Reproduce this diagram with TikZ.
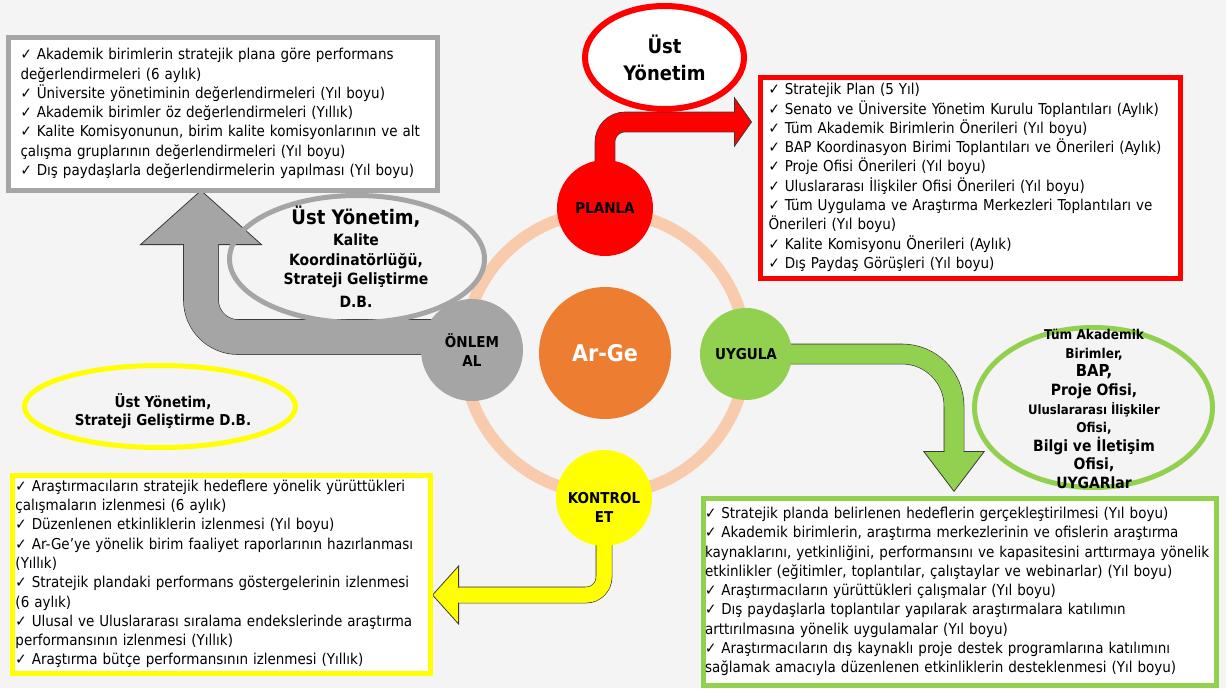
\documentclass[tikz,border=0pt]{standalone}
\usepackage{fontspec}
\IfFontExistsTF{DejaVu Sans Condensed}
  {\setmainfont{DejaVu Sans Condensed}}
  {\setmainfont{DejaVu Sans}[FakeStretch=0.9]}
\usetikzlibrary{shapes.geometric,arrows.meta,backgrounds}

\definecolor{bgGray}{HTML}{F4F4F4}
\definecolor{planRed}{HTML}{FF0000}
\definecolor{doGreen}{HTML}{92D050}
\definecolor{checkYellow}{HTML}{FFFF00}
\definecolor{actGray}{HTML}{A5A5A5}
\definecolor{argeOrange}{HTML}{ED7D31}
\definecolor{ringPeach}{HTML}{F8CBAD}
\definecolor{arrowEdge}{HTML}{3A3A3A}

\tikzset{
  phase/.style={circle, inner sep=0pt, align=center, font=\fontsize{15}{19}\selectfont\bfseries},
  listbox/.style={draw=#1, line width=5pt, fill=white, anchor=north west, align=left,
    inner ysep=0pt, font=\fontsize{15}{19.3}\selectfont},
  unitring/.style={ellipse, draw=#1, line width=5pt, inner sep=0pt},
  unittext/.style={align=center, inner sep=0pt},
}

\begin{document}
\begin{tikzpicture}[x=1pt, y=-1pt]
  \node[phase, fill=argeOrange, text=white, minimum size=132pt, font=\fontsize{23}{27}\selectfont\bfseries] (arge) at (605,353) {Ar-Ge};
  \node[phase, fill=planRed, minimum size=96pt] (planla) at (605,208) {PLANLA};
  \node[phase, fill=doGreen, minimum size=92pt] (uygula) at (746,354) {UYGULA};
  \node[phase, fill=checkYellow, minimum size=96pt] (kontrol) at (604,498) {};
  \node[phase] (kontrolet) at ([yshift=-9pt]kontrol.center) {KONTROL\\ET};
  \node[phase, fill=actGray, minimum size=102pt] (onlem) at (472,350) {ÖNLEM\\AL};

  \node[listbox=actGray, inner xsep=12.5pt, text width=404pt, minimum height=153pt] (onlembox) at (5.5,34.5) {%
    ✓ Akademik birimlerin stratejik plana göre performans\\
    değerlendirmeleri (6 aylık)\\
    ✓ Üniversite yönetiminin değerlendirmeleri (Yıl boyu)\\
    ✓ Akademik birimler öz değerlendirmeleri (Yıllık)\\
    ✓ Kalite Komisyonunun, birim kalite komisyonlarının ve alt\\
    çalışma gruplarının değerlendirmeleri (Yıl boyu)\\
    ✓ Dış paydaşlarla değerlendirmelerin yapılması (Yıl boyu)};
  \node[listbox=planRed, inner xsep=8.5pt, text width=403pt, minimum height=201pt] (planbox) at (757.5,74.5) {%
    ✓ Stratejik Plan (5 Yıl)\\
    ✓ Senato ve Üniversite Yönetim Kurulu Toplantıları (Aylık)\\
    ✓ Tüm Akademik Birimlerin Önerileri (Yıl boyu)\\
    ✓ BAP Koordinasyon Birimi Toplantıları ve Önerileri (Aylık)\\
    ✓ Proje Ofisi Önerileri (Yıl boyu)\\
    ✓ Uluslararası İlişkiler Ofisi Önerileri (Yıl boyu)\\
    ✓ Tüm Uygulama ve Araştırma Merkezleri Toplantıları ve\\
    Önerileri (Yıl boyu)\\
    ✓ Kalite Komisyonu Önerileri (Aylık)\\
    ✓ Dış Paydaş Görüşleri (Yıl boyu)};
  \node[listbox=checkYellow, inner xsep=3.5pt, text width=411pt, minimum height=198pt] (kontrolbox) at (9.5,472.5) {%
    ✓ Araştırmacıların stratejik hedeflere yönelik yürüttükleri\\
    çalışmaların izlenmesi (6 aylık)\\
    ✓ Düzenlenen etkinliklerin izlenmesi (Yıl boyu)\\
    ✓ Ar-Ge’ye yönelik birim faaliyet raporlarının hazırlanması\\
    (Yıllık)\\
    ✓ Stratejik plandaki performans göstergelerinin izlenmesi\\
    (6 aylık)\\
    ✓ Ulusal ve Uluslararası sıralama endekslerinde araştırma\\
    performansının izlenmesi (Yıllık)\\
    ✓ Araştırma bütçe performansının izlenmesi (Yıllık)};
  \node[listbox=doGreen, inner xsep=2pt, text width=509.5pt, minimum height=187pt] (uygulabox) at (700.5,495.5) {%
    ✓ Stratejik planda belirlenen hedeflerin gerçekleştirilmesi (Yıl boyu)\\
    ✓ Akademik birimlerin, araştırma merkezlerinin ve ofislerin araştırma\\
    kaynaklarını, yetkinliğini, performansını ve kapasitesini arttırmaya yönelik\\
    etkinlikler (eğitimler, toplantılar, çalıştaylar ve webinarlar) (Yıl boyu)\\
    ✓ Araştırmacıların yürüttükleri çalışmalar (Yıl boyu)\\
    ✓ Dış paydaşlarla toplantılar yapılarak araştırmalara katılımın\\
    arttırılmasına yönelik uygulamalar (Yıl boyu)\\
    ✓ Araştırmacıların dış kaynaklı proje destek programlarına katılımını\\
    sağlamak amacıyla düzenlenen etkinliklerin desteklenmesi (Yıl boyu)};

  \node[unitring=planRed, line width=6pt, fill=white, minimum width=159pt, minimum height=103pt] (ustring) at (664.5,57.5) {};
  \node[unittext, font=\fontsize{20}{27}\selectfont\bfseries] (usttext) at (ustring.center) {Üst\\Yönetim};
  \node[unitring=actGray, minimum width=255pt, minimum height=127pt] (kaliterring) at (357,259) {};
  \node[unittext, font=\fontsize{15.5}{19.5}\selectfont\bfseries] (kalitetext) at (356,256.5)
    {{\fontsize{20}{24}\selectfont Üst Yönetim,}\\[2pt] Kalite\\ Koordinatörlüğü,\\ Strateji Geliştirme\\[3pt] D.B.};
  \node[unittext, font=\fontsize{15}{18.5}\selectfont\bfseries] (stratejitext) at (163,411) {Üst Yönetim,\\Strateji Geliştirme D.B.};
  \node[unitring=checkYellow, minimum width=271pt, minimum height=82pt] (stratejiring) at (160,406.5) {};
  \node[unitring=doGreen, minimum width=238pt, minimum height=160pt] (ofisring) at (1093.5,407.5) {};
  \node[unittext, font=\fontsize{15.5}{18.6}\selectfont\bfseries] (ofistext) at (1094,409) {%
    {\fontsize{13.5}{16}\selectfont Tüm Akademik}\\
    {\fontsize{13.5}{16}\selectfont Birimler,}\\
    {\fontsize{16.5}{18}\selectfont BAP,}\\
    Proje Ofisi,\\
    {\fontsize{13}{16}\selectfont Uluslararası İlişkiler}\\
    {\fontsize{13.5}{16}\selectfont Ofisi,}\\
    Bilgi ve İletişim\\
    Ofisi,\\
    UYGARlar};

  \coordinate (redtip) at (752,122);
  \coordinate (greentip) at (954,492);
  \coordinate (yellowtip) at (432,595);
  \coordinate (graytip) at (201,190);

  \begin{scope}[on background layer]
    \fill[bgGray] (0,0) rectangle (1226,688);
    \draw[ringPeach, line width=12pt] (arge.center) circle[radius=141];

    \draw[arrowEdge, line width=20.6pt, rounded corners=20pt, shorten >=17pt] (planla.center) |- (redtip);
    \draw[planRed, line width=19pt, rounded corners=20pt, -{Triangle[length=18pt, width=51pt, line width=0.8pt, color=arrowEdge, fill=planRed]}] (planla.center) |- (redtip);
    \draw[planRed, line width=19pt, rounded corners=20pt, shorten >=16pt] (planla.center) |- (redtip);

    \draw[arrowEdge, line width=20.6pt, rounded corners=52pt, shorten >=40pt] (uygula.center) -| (greentip);
    \draw[doGreen, line width=19pt, rounded corners=52pt, -{Triangle[length=41pt, width=62pt, line width=0.8pt, color=arrowEdge, fill=doGreen]}] (uygula.center) -| (greentip);
    \draw[doGreen, line width=19pt, rounded corners=52pt, shorten >=39pt] (uygula.center) -| (greentip);

    \draw[arrowEdge, line width=16.6pt, rounded corners=18pt, shorten >=26pt] (kontrol.center) |- (yellowtip);
    \draw[checkYellow, line width=15pt, rounded corners=18pt, -{Triangle[length=27pt, width=60pt, line width=0.8pt, color=arrowEdge, fill=checkYellow]}] (kontrol.center) |- (yellowtip);
    \draw[checkYellow, line width=15pt, rounded corners=18pt, shorten >=25pt] (kontrol.center) |- (yellowtip);

    \draw[arrowEdge, line width=35.6pt, rounded corners=37pt, shorten >=54pt] ([yshift=13pt]onlem.center) -| (graytip);
    \draw[actGray, line width=34pt, rounded corners=37pt, -{Triangle[length=55pt, width=123pt, line width=0.8pt, color=arrowEdge, fill=actGray]}] ([yshift=13pt]onlem.center) -| (graytip);
    \draw[actGray, line width=34pt, rounded corners=37pt, shorten >=53pt] ([yshift=13pt]onlem.center) -| (graytip);
  \end{scope}
\end{tikzpicture}
\end{document}
